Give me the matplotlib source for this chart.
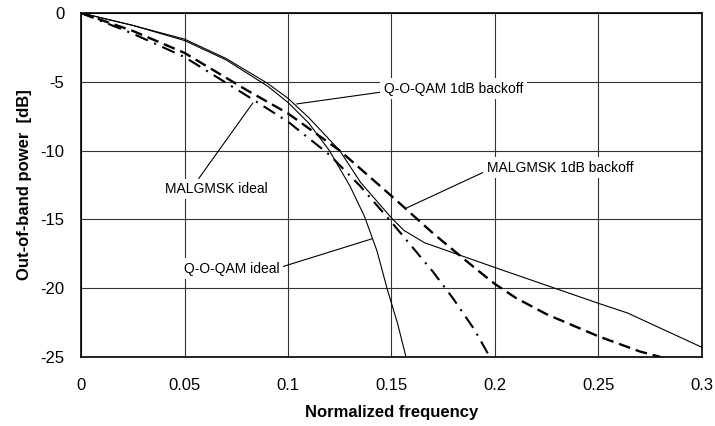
import matplotlib
matplotlib.use("Agg")
import matplotlib.pyplot as plt

plt.rcParams['font.family'] = ['Liberation Sans', 'DejaVu Sans']
plt.rcParams['axes.unicode_minus'] = False

# Q-O-QAM, ideal amplifier
qam_ideal_f = [0, 0.025, 0.05, 0.07, 0.09, 0.1, 0.11, 0.12, 0.13, 0.137, 0.143, 0.148, 0.153, 0.157]
qam_ideal_db = [0, -0.9, -2.0, -3.4, -5.3, -6.5, -8.0, -10.0, -12.6, -14.8, -17.3, -20.1, -22.6, -25.0]

# Q-O-QAM, 1dB backoff
qam_bo_f = [0, 0.025, 0.05, 0.07, 0.09, 0.1, 0.11, 0.125, 0.135, 0.15, 0.156, 0.166, 0.2, 0.25, 0.264, 0.3]
qam_bo_db = [0, -0.9, -1.9, -3.3, -5.1, -6.2, -7.6, -10.0, -12.3, -14.9, -15.8, -16.7, -18.5, -21.1, -21.8, -24.3]

# MALGMSK, ideal amplifier
msk_ideal_f = [0, 0.025, 0.05, 0.08, 0.1, 0.12, 0.135, 0.15, 0.16, 0.17, 0.18, 0.19, 0.1975]
msk_ideal_db = [0, -1.5, -3.2, -6.0, -7.9, -10.3, -12.6, -15.2, -17.0, -18.8, -20.8, -23.0, -25.0]

# MALGMSK, 1dB backoff
msk_bo_f = [0, 0.025, 0.05, 0.08, 0.1, 0.125, 0.15, 0.17, 0.19, 0.2, 0.21, 0.225, 0.25, 0.27, 0.28]
msk_bo_db = [0, -1.3, -2.9, -5.6, -7.3, -10.0, -13.3, -16.0, -18.5, -19.7, -20.7, -21.9, -23.5, -24.6, -25.0]

fig = plt.figure(figsize=(7.15, 4.26), dpi=100)
ax = fig.add_axes([0.1133, 0.162, 0.8685, 0.8075])

ax.plot(qam_ideal_f, qam_ideal_db, color='black', lw=0.8)
ax.plot(qam_bo_f, qam_bo_db, color='black', lw=0.8)
ax.plot(msk_ideal_f, msk_ideal_db, color='black', lw=1.5, dashes=(6.5, 3.3, 1, 3.3))
ax.plot(msk_bo_f, msk_bo_db, color='black', lw=1.7, dashes=(5, 2.5))

ax.set_xlim(0, 0.3)
ax.set_ylim(-25, 0)
ax.set_xticks([0, 0.05, 0.1, 0.15, 0.2, 0.25, 0.3])
ax.set_xticklabels(['0', '0.05', '0.1', '0.15', '0.2', '0.25', '0.3'])
ax.set_yticks([0, -5, -10, -15, -20, -25])
ax.tick_params(length=0, labelsize=12)
ax.tick_params(axis='x', pad=15)
ax.tick_params(axis='y', pad=12)
ax.grid(True, color='#333333', lw=0.8)
for s in ax.spines.values():
    s.set_linewidth(1.2)

ax.set_xlabel('Normalized frequency', fontsize=12, fontweight='bold', labelpad=9)
ax.set_ylabel('Out-of-band power  [dB]', fontsize=12, fontweight='bold', labelpad=6)

box = dict(boxstyle='square,pad=0.25', fc='white', ec='none')
arrow = dict(arrowstyle='-', lw=0.8, color='black', shrinkA=0, shrinkB=0)

ax.annotate('Q-O-QAM 1dB backoff', xy=(0.1042, -6.61), xytext=(0.1462, -5.52),
            ha='left', va='center', fontsize=10, bbox=box,
            arrowprops=dict(arrow, relpos=(0, 0.3)))
ax.annotate('MALGMSK ideal', xy=(0.083, -6.54), xytext=(0.0656, -12.79),
            ha='center', va='center', fontsize=10, bbox=box,
            arrowprops=dict(arrow, relpos=(0.3, 1)))
ax.annotate('Q-O-QAM ideal', xy=(0.1404, -16.42), xytext=(0.0729, -18.6),
            ha='center', va='center', fontsize=10, bbox=box,
            arrowprops=dict(arrow, relpos=(1, 0.6)))
ax.annotate('MALGMSK 1dB backoff', xy=(0.1573, -14.17), xytext=(0.196, -11.26),
            ha='left', va='center', fontsize=10, bbox=box,
            arrowprops=dict(arrow, relpos=(0, 0.3)))

fig.savefig('out.png', dpi=100)
